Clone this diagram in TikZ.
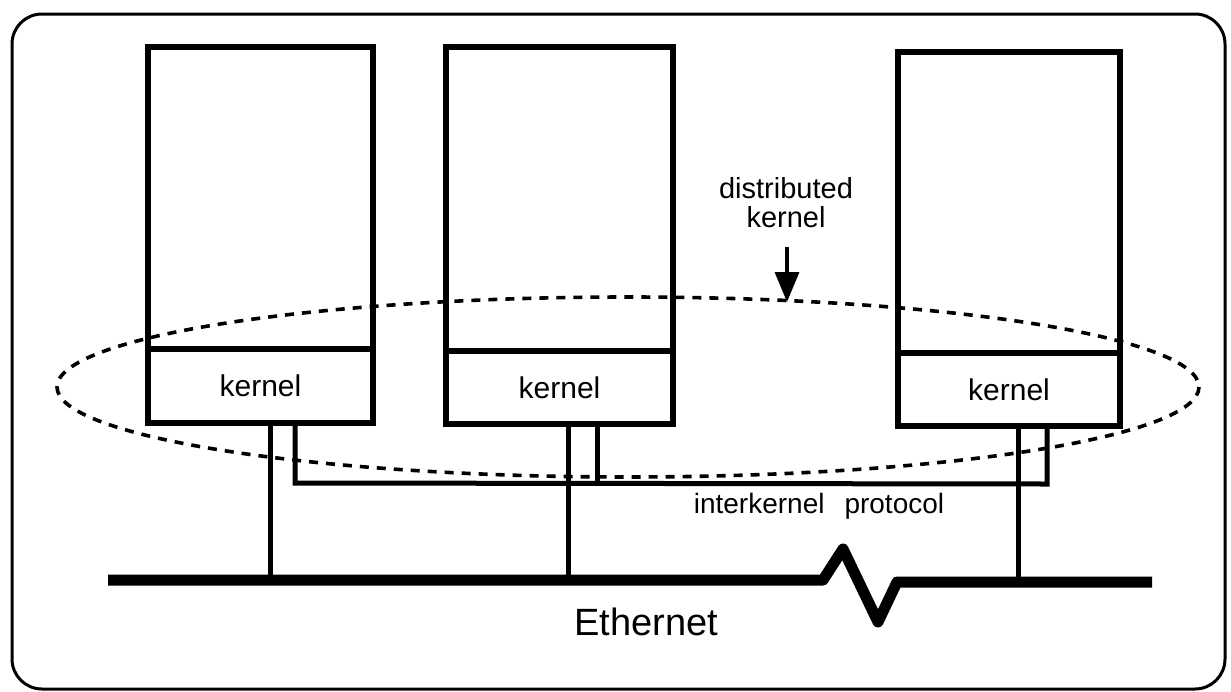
\documentclass[tikz,border=0pt]{standalone}
\usepackage{fontspec}
\setmainfont{Liberation Sans}
\usetikzlibrary{arrows.meta}
\begin{document}
\begin{tikzpicture}[x=0.5pt,y=-0.5pt,
  upperbox/.style={draw,line width=3pt,inner sep=0pt,outer sep=0pt},
  kernbox/.style={draw,line width=3pt,inner sep=0pt,outer sep=0pt,font=\fontsize{15}{18}\selectfont},
  wire/.style={line width=2.5pt},
  ether/.style={line width=5.5pt,line join=round},
  txt/.style={inner sep=0pt,anchor=base},
  frame/.style={line width=1.5pt,rounded corners=15pt},
  dk/.style={line width=1.8pt,dash pattern=on 4.5pt off 4pt},
  pointer/.style={line width=1.7pt,-{Triangle[width=12pt,length=15pt]}}
]
\useasboundingbox (0,0) rectangle (1231,691);
\draw[frame] (12,14) rectangle (1225,689);

% machines
\node[upperbox,minimum width=112.5pt,minimum height=151pt] (u1) at (260.5,198) {};
\node[kernbox,minimum width=112.5pt,minimum height=37pt] (k1) at (260.5,386) {kernel};
\node[upperbox,minimum width=113.5pt,minimum height=152pt] (u2) at (559.5,199) {};
\node[kernbox,minimum width=113.5pt,minimum height=36.5pt] (k2) at (559.5,387.5) {kernel};
\node[upperbox,minimum width=111pt,minimum height=150.5pt] (u3) at (1009,202.5) {};
\node[kernbox,minimum width=111pt,minimum height=36.5pt] (k3) at (1009,389.5) {kernel};

% distributed kernel ellipse
\draw[dk] (628,387) ellipse [x radius=571, y radius=90];

% wiring coordinates
\coordinate (e1) at (270,579);
\coordinate (e2) at (568,580);
\coordinate (e3) at (1018,582);
\coordinate (p1) at (295,483);
\coordinate (p2) at (597,483);
\coordinate (p3) at (1047,484);

\draw[wire] (k1.south -| e1) -- (e1);
\draw[wire] (k2.south -| e2) -- (e2);
\draw[wire] (k3.south -| e3) -- (e3);
\draw[wire] (k1.south -| p1) -- (p1) -- (p3) -- (k3.south -| p3);
\draw[wire] (k2.south -| p2) -- (p2);

% ethernet
\coordinate (ethL) at (108,580);
\coordinate (z1) at (823,580);
\coordinate (z2) at (843,549);
\coordinate (z3) at (878,622);
\coordinate (z4) at (897,582);
\coordinate (ethR) at (1152,582);
\draw[ether] (ethL) -- (z1) -- (z2) -- (z3) -- (z4) -- (ethR);

% labels
\node[txt,font=\fontsize{14.5}{17}\selectfont] (dl1) at (786,198) {distributed};
\node[txt,font=\fontsize{14.5}{17}\selectfont] (dl2) at (786,227) {kernel};
\coordinate (dtop) at (787,247);
\coordinate (dtip) at (787,302);
\draw[pointer] (dtop) -- (dtip);

\node[txt,font=\fontsize{14}{17}\selectfont] (ikp) at (819,513) {interkernel\hspace{10pt}protocol};
\node[txt,font=\fontsize{19}{23}\selectfont] (eth) at (646,635) {Ethernet};
\end{tikzpicture}
\end{document}
